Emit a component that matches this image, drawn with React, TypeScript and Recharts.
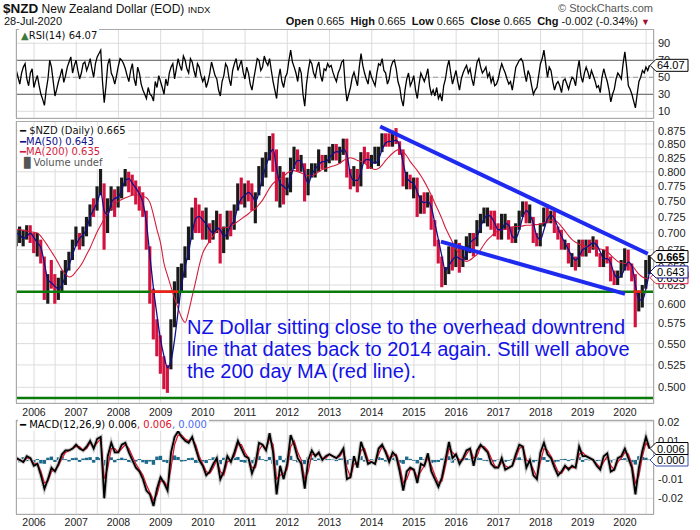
import React from "react";
import {
  ComposedChart,
  Line,
  Bar,
  Cell,
  XAxis,
  YAxis,
  CartesianGrid,
  ReferenceLine,
  ReferenceDot,
} from "recharts";

const FONT = "Arial, 'Liberation Sans', sans-serif";
const LEGEND_FONT = "'DejaVu Sans', Verdana, sans-serif";

// one point per month, late Jul 2005 .. late Jul 2020
const START = 2005.58;
const STEP = 1 / 12;
const X_DOMAIN: [number, number] = [2005.573, 2020.687];
const YEARS = [2006, 2007, 2008, 2009, 2010, 2011, 2012, 2013, 2014, 2015, 2016, 2017, 2018, 2019, 2020];

const PRICE_LOW = [
  0.68, 0.685, 0.68, 0.69, 0.685, 0.67,
  0.665, 0.655, 0.605, 0.6, 0.62, 0.6, 0.605, 0.615, 0.625, 0.645, 0.66, 0.68,
  0.675, 0.68, 0.695, 0.71, 0.725, 0.735, 0.76, 0.675, 0.7, 0.735, 0.725, 0.74,
  0.755, 0.775, 0.765, 0.76, 0.745, 0.735, 0.725, 0.675, 0.6, 0.555, 0.535, 0.515,
  0.498, 0.494, 0.52, 0.57, 0.6, 0.615, 0.635, 0.66, 0.69, 0.7, 0.7, 0.69,
  0.69, 0.685, 0.69, 0.7, 0.655, 0.67, 0.69, 0.695, 0.705, 0.735, 0.745, 0.74,
  0.75, 0.735, 0.715, 0.76, 0.775, 0.79, 0.82, 0.8, 0.75, 0.74, 0.745, 0.76,
  0.765, 0.805, 0.8, 0.8, 0.75, 0.76, 0.79, 0.79, 0.8, 0.805, 0.8, 0.815,
  0.82, 0.82, 0.815, 0.83, 0.79, 0.77, 0.775, 0.765, 0.775, 0.815, 0.805, 0.805,
  0.815, 0.81, 0.835, 0.845, 0.845, 0.845, 0.85, 0.83, 0.775, 0.77, 0.77, 0.755,
  0.725, 0.73, 0.73, 0.74, 0.705, 0.68, 0.655, 0.622, 0.625, 0.64, 0.645, 0.65,
  0.642, 0.65, 0.66, 0.67, 0.665, 0.68, 0.7, 0.715, 0.71, 0.705, 0.695, 0.69,
  0.69, 0.705, 0.69, 0.685, 0.685, 0.705, 0.725, 0.715, 0.715, 0.685, 0.68, 0.68,
  0.71, 0.715, 0.715, 0.7, 0.69, 0.675, 0.675, 0.655, 0.65, 0.645, 0.65, 0.665,
  0.665, 0.67, 0.675, 0.665, 0.65, 0.65, 0.655, 0.63, 0.625, 0.625, 0.635, 0.645,
  0.645, 0.63, 0.57, 0.59, 0.595, 0.62, 0.64,
];

const PRICE_HIGH = [
  0.705, 0.71, 0.705, 0.712, 0.712, 0.7,
  0.7, 0.69, 0.665, 0.64, 0.66, 0.64, 0.635, 0.645, 0.66, 0.672, 0.69, 0.71,
  0.7, 0.71, 0.725, 0.745, 0.755, 0.775, 0.805, 0.78, 0.755, 0.775, 0.77, 0.775,
  0.79, 0.805, 0.8, 0.795, 0.785, 0.775, 0.765, 0.735, 0.68, 0.62, 0.58, 0.56,
  0.535, 0.525, 0.58, 0.63, 0.65, 0.655, 0.68, 0.71, 0.74, 0.756, 0.745, 0.735,
  0.74, 0.715, 0.72, 0.735, 0.73, 0.71, 0.735, 0.735, 0.745, 0.78, 0.79, 0.78,
  0.785, 0.78, 0.765, 0.81, 0.825, 0.835, 0.865, 0.87, 0.84, 0.81, 0.8, 0.79,
  0.825, 0.845, 0.84, 0.83, 0.815, 0.805, 0.815, 0.815, 0.84, 0.83, 0.83, 0.845,
  0.85, 0.85, 0.845, 0.86, 0.86, 0.805, 0.81, 0.805, 0.835, 0.845, 0.835, 0.83,
  0.845, 0.845, 0.87, 0.87, 0.87, 0.875, 0.88, 0.855, 0.84, 0.8, 0.795, 0.79,
  0.79, 0.76, 0.765, 0.765, 0.76, 0.72, 0.69, 0.665, 0.65, 0.68, 0.68, 0.69,
  0.685, 0.68, 0.695, 0.7, 0.7, 0.72, 0.73, 0.74, 0.74, 0.735, 0.735, 0.715,
  0.73, 0.73, 0.72, 0.71, 0.715, 0.735, 0.75, 0.75, 0.745, 0.725, 0.7, 0.715,
  0.74, 0.745, 0.735, 0.735, 0.71, 0.705, 0.69, 0.685, 0.67, 0.665, 0.69, 0.69,
  0.69, 0.69, 0.695, 0.69, 0.67, 0.675, 0.68, 0.665, 0.645, 0.645, 0.66, 0.677,
  0.675, 0.655, 0.64, 0.615, 0.625, 0.66, 0.667,
];

const PRICE_CLOSE = [
  0.69, 0.69, 0.692, 0.7, 0.695, 0.683,
  0.685, 0.66, 0.615, 0.635, 0.63, 0.61, 0.62, 0.635, 0.65, 0.668, 0.685, 0.7,
  0.69, 0.705, 0.715, 0.74, 0.735, 0.77, 0.78, 0.705, 0.75, 0.76, 0.745, 0.77,
  0.785, 0.795, 0.78, 0.77, 0.76, 0.745, 0.73, 0.685, 0.61, 0.57, 0.545, 0.53,
  0.51, 0.5, 0.57, 0.62, 0.64, 0.65, 0.67, 0.7, 0.73, 0.72, 0.715, 0.705,
  0.705, 0.695, 0.71, 0.725, 0.685, 0.695, 0.725, 0.705, 0.735, 0.76, 0.755, 0.775,
  0.77, 0.75, 0.76, 0.8, 0.815, 0.825, 0.855, 0.83, 0.765, 0.8, 0.77, 0.775,
  0.82, 0.825, 0.815, 0.815, 0.765, 0.795, 0.805, 0.805, 0.825, 0.815, 0.825, 0.83,
  0.84, 0.835, 0.835, 0.855, 0.795, 0.775, 0.8, 0.775, 0.83, 0.825, 0.815, 0.82,
  0.82, 0.84, 0.865, 0.86, 0.85, 0.87, 0.855, 0.835, 0.78, 0.79, 0.78, 0.78,
  0.73, 0.75, 0.745, 0.76, 0.71, 0.685, 0.66, 0.64, 0.64, 0.675, 0.66, 0.68,
  0.65, 0.67, 0.69, 0.695, 0.675, 0.71, 0.725, 0.725, 0.73, 0.715, 0.705, 0.695,
  0.72, 0.72, 0.7, 0.69, 0.71, 0.73, 0.745, 0.72, 0.72, 0.69, 0.685, 0.71,
  0.735, 0.725, 0.725, 0.705, 0.7, 0.68, 0.68, 0.665, 0.665, 0.655, 0.685, 0.67,
  0.685, 0.68, 0.68, 0.67, 0.655, 0.67, 0.66, 0.642, 0.63, 0.64, 0.645, 0.672,
  0.65, 0.635, 0.595, 0.605, 0.62, 0.645, 0.665,
];

const MA50 = [
  0.7, 0.697, 0.692, 0.695, 0.7, 0.693,
  0.685, 0.678, 0.655, 0.632, 0.628, 0.623, 0.62, 0.625, 0.638, 0.652, 0.668, 0.682,
  0.692, 0.697, 0.707, 0.725, 0.737, 0.748, 0.765, 0.735, 0.728, 0.748, 0.755, 0.757,
  0.77, 0.785, 0.788, 0.78, 0.772, 0.762, 0.748, 0.715, 0.665, 0.62, 0.585, 0.555,
  0.535, 0.522, 0.53, 0.555, 0.59, 0.625, 0.65, 0.672, 0.7, 0.722, 0.726, 0.72,
  0.714, 0.705, 0.7, 0.708, 0.705, 0.695, 0.7, 0.712, 0.72, 0.742, 0.755, 0.76,
  0.765, 0.76, 0.75, 0.765, 0.79, 0.81, 0.83, 0.84, 0.805, 0.78, 0.775, 0.77,
  0.79, 0.81, 0.82, 0.818, 0.795, 0.78, 0.795, 0.805, 0.812, 0.818, 0.818, 0.825,
  0.832, 0.836, 0.835, 0.84, 0.83, 0.795, 0.785, 0.785, 0.8, 0.82, 0.822, 0.818,
  0.815, 0.822, 0.84, 0.852, 0.855, 0.855, 0.857, 0.845, 0.815, 0.79, 0.783, 0.78,
  0.765, 0.752, 0.748, 0.75, 0.74, 0.715, 0.69, 0.665, 0.645, 0.652, 0.66, 0.665,
  0.662, 0.66, 0.67, 0.685, 0.69, 0.695, 0.71, 0.722, 0.728, 0.725, 0.715, 0.705,
  0.705, 0.715, 0.712, 0.695, 0.692, 0.705, 0.725, 0.735, 0.728, 0.715, 0.695, 0.69,
  0.705, 0.722, 0.728, 0.722, 0.708, 0.695, 0.685, 0.675, 0.665, 0.66, 0.665, 0.675,
  0.678, 0.682, 0.685, 0.682, 0.672, 0.662, 0.662, 0.655, 0.64, 0.635, 0.638, 0.648,
  0.657, 0.652, 0.625, 0.605, 0.605, 0.62, 0.643,
];

const MA200 = [
  0.706, 0.705, 0.704, 0.703, 0.702, 0.701,
  0.7, 0.695, 0.688, 0.68, 0.672, 0.664, 0.655, 0.646, 0.64, 0.636, 0.638, 0.644,
  0.65, 0.658, 0.668, 0.678, 0.69, 0.702, 0.712, 0.722, 0.731, 0.738, 0.745, 0.75,
  0.753, 0.756, 0.758, 0.76, 0.761, 0.76, 0.758, 0.756, 0.748, 0.728, 0.705, 0.685,
  0.655, 0.638, 0.622, 0.607, 0.594, 0.582, 0.576, 0.59, 0.61, 0.63, 0.652, 0.67,
  0.68, 0.688, 0.696, 0.703, 0.706, 0.708, 0.709, 0.711, 0.714, 0.718, 0.722, 0.726,
  0.73, 0.735, 0.738, 0.745, 0.752, 0.762, 0.772, 0.78, 0.785, 0.788, 0.792, 0.798,
  0.801, 0.802, 0.8, 0.798, 0.795, 0.793, 0.793, 0.796, 0.8, 0.804, 0.806, 0.808,
  0.81, 0.812, 0.815, 0.82, 0.823, 0.825, 0.823, 0.82, 0.818, 0.815, 0.81, 0.806,
  0.804, 0.806, 0.812, 0.82, 0.827, 0.833, 0.838, 0.84, 0.836, 0.828, 0.818, 0.81,
  0.802, 0.793, 0.783, 0.772, 0.76, 0.747, 0.735, 0.722, 0.708, 0.697, 0.686, 0.676,
  0.668, 0.661, 0.658, 0.66, 0.664, 0.668, 0.675, 0.683, 0.69, 0.695, 0.7, 0.703,
  0.705, 0.706, 0.708, 0.709, 0.71, 0.71, 0.711, 0.712, 0.712, 0.713, 0.713, 0.714,
  0.716, 0.718, 0.72, 0.72, 0.716, 0.71, 0.703, 0.696, 0.69, 0.686, 0.683, 0.681,
  0.68, 0.679, 0.678, 0.677, 0.676, 0.675, 0.672, 0.667, 0.662, 0.658, 0.656, 0.655,
  0.655, 0.652, 0.646, 0.64, 0.636, 0.634, 0.635,
];

// RSI read twice a month
const RSI_STEP = 1 / 24;
const RSI = [
  58, 50, 42, 55, 62, 66, 48, 40, 55, 60, 38,
  46, 52, 40, 30, 24, 17, 35, 48, 70, 62, 45, 28, 36, 45, 52, 60, 44, 52, 62, 68, 74, 55, 64, 70,
  58, 48, 55, 66, 68, 58, 64, 72, 60, 50, 66, 74, 78, 82, 45, 20, 40, 65, 72, 55, 50, 42, 52, 63,
  72, 70, 66, 60, 52, 45, 58, 66, 48, 40, 62, 55, 42, 35, 30, 25, 38, 30, 28, 22, 45, 38, 52, 45,
  38, 30, 48, 40, 55, 62, 66, 48, 60, 72, 64, 58, 75, 70, 60, 55, 72, 68, 58, 50, 66, 62, 52, 45,
  50, 38, 45, 55, 68, 60, 52, 48, 35, 28, 45, 52, 66, 62, 48, 40, 58, 66, 72, 58, 64, 70, 56, 48,
  62, 55, 42, 35, 48, 60, 72, 70, 58, 62, 75, 68, 64, 72, 58, 45, 35, 25, 48, 60, 45, 38, 50, 55,
  70, 82, 68, 62, 55, 45, 62, 55, 30, 16, 42, 58, 70, 66, 55, 50, 62, 68, 52, 45, 60, 58, 66, 62,
  64, 56, 50, 45, 55, 60, 68, 70, 40, 22, 30, 38, 50, 56, 48, 40, 62, 78, 64, 55, 48, 42, 58, 50,
  45, 40, 55, 66, 64, 72, 58, 55, 42, 48, 62, 68, 70, 60, 45, 38, 24, 16, 35, 48, 55, 40, 45, 52,
  35, 25, 42, 55, 50, 45, 52, 60, 40, 30, 35, 28, 38, 25, 30, 22, 40, 48, 62, 70, 55, 42, 50, 58,
  45, 35, 48, 55, 60, 64, 55, 60, 48, 40, 55, 68, 72, 62, 55, 58, 62, 50, 55, 44, 50, 40, 42, 48,
  58, 66, 60, 55, 48, 42, 45, 35, 48, 62, 66, 70, 72, 68, 55, 45, 58, 52, 40, 30, 35, 38, 52, 66,
  72, 82, 66, 50, 62, 58, 45, 35, 42, 45, 40, 32, 46, 48, 42, 36, 44, 50, 48, 40, 58, 70, 52, 44,
  55, 62, 56, 48, 58, 52, 46, 38, 40, 32, 50, 60, 52, 45, 35, 21, 30, 36, 48, 55, 52, 48, 66, 80,
  62, 40, 36, 30, 22, 14, 30, 45, 50, 58, 55, 62, 58, 64.07,
];

const MACD = [
  0.001, 0, -0.001, 0.002, 0.001, -0.003,
  -0.002, -0.008, -0.015, -0.01, -0.004, -0.006, -0.002, 0.003, 0.005, 0.005, 0.006, 0.008,
  0.006, 0.005, 0.007, 0.01, 0.006, 0.011, 0.012, -0.02, 0.002, 0.009, 0.004, 0.004,
  0.008, 0.009, 0.004, 0, -0.004, -0.006, -0.01, -0.016, -0.018, -0.024, -0.015, -0.009,
  -0.012, -0.016, 0.004, 0.012, 0.015, 0.012, 0.01, 0.009, 0.012, 0.006, 0, -0.003,
  -0.008, -0.006, -0.002, 0.001, -0.01, -0.006, 0.002, -0.001, 0.004, 0.01, 0.006, 0.002,
  0.001, -0.007, -0.002, 0.009, 0.008, 0.005, 0.014, 0.004, -0.018, -0.003, -0.01, -0.002,
  0.013, 0.008, 0.001, -0.002, -0.015, 0, 0.005, 0.002, 0.004, 0, 0.002, 0.003,
  0.002, 0.001, 0.003, 0.006, -0.01, -0.009, 0.002, -0.004, 0.0095, 0.004, -0.002, -0.001,
  -0.002, 0.006, 0.008, 0.004, -0.001, 0.004, 0.002, -0.006, -0.016, -0.006, -0.004, -0.005,
  -0.012, -0.002, -0.003, 0.0035, -0.006, -0.01, -0.014, -0.009, 0, 0.0095, 0.001, 0.003,
  -0.002, 0.001, 0.005, 0.006, -0.003, 0.005, 0.008, 0.006, 0.004, -0.002, -0.004, -0.004,
  0.001, -0.005, -0.004, -0.003, 0.003, 0.008, 0.007, -0.004, 0, -0.008, -0.01, 0.004,
  0.009, 0.003, 0.001, -0.004, -0.008, -0.006, -0.003, -0.005, -0.003, -0.004, 0.007, 0.002,
  0.002, 0.001, 0, -0.003, -0.005, 0.002, 0.0035, -0.006, -0.005, 0.001, 0.002, 0.006,
  0.001, -0.004, -0.018, -0.004, 0.005, 0.012, 0.006,
];

const SIGNAL = [
  0.001, 0, -0.001, 0.001, 0.001, -0.002,
  -0.002, -0.006, -0.012, -0.011, -0.006, -0.005, -0.003, 0.001, 0.004, 0.005, 0.006, 0.007,
  0.007, 0.005, 0.006, 0.009, 0.007, 0.009, 0.011, -0.01, -0.004, 0.006, 0.006, 0.004,
  0.006, 0.008, 0.006, 0.002, -0.002, -0.005, -0.008, -0.013, -0.017, -0.021, -0.018, -0.011,
  -0.011, -0.014, -0.004, 0.008, 0.013, 0.013, 0.011, 0.01, 0.011, 0.008, 0.002, -0.002,
  -0.006, -0.007, -0.004, 0, -0.006, -0.008, -0.001, 0, 0.002, 0.008, 0.008, 0.004,
  0.001, -0.004, -0.004, 0.005, 0.008, 0.006, 0.011, 0.008, -0.01, -0.008, -0.007, -0.005,
  0.007, 0.01, 0.004, 0, -0.01, -0.006, 0.003, 0.003, 0.003, 0.001, 0.001, 0.003,
  0.002, 0.001, 0.002, 0.005, -0.004, -0.009, -0.002, -0.002, 0.005, 0.006, 0, -0.001,
  -0.002, 0.003, 0.007, 0.005, 0.001, 0.002, 0.003, -0.003, -0.012, -0.01, -0.005, -0.005,
  -0.009, -0.006, -0.003, 0.001, -0.003, -0.008, -0.012, -0.011, -0.003, 0.006, 0.004, 0.002,
  0, 0, 0.003, 0.006, 0.001, 0.002, 0.007, 0.007, 0.005, 0.001, -0.003, -0.004,
  -0.001, -0.003, -0.004, -0.003, 0.001, 0.006, 0.007, 0, -0.001, -0.005, -0.009, -0.001,
  0.006, 0.005, 0.002, -0.002, -0.006, -0.007, -0.004, -0.004, -0.004, -0.004, 0.003, 0.004,
  0.002, 0.001, 0, -0.002, -0.004, -0.001, 0.002, -0.003, -0.005, -0.001, 0.001, 0.004,
  0.003, -0.002, -0.012, -0.008, 0.002, 0.009, 0.006,
];

const HIST = [
  0.0008, -0.0012, 0.0015, -0.0006, 0.001, -0.0015,
  0.0005, -0.0018, -0.002, 0.0012, 0.0018, -0.001, 0.0014, 0.0016, 0.0004, -0.0008, 0.001, 0.0012,
  -0.001, 0.0008, 0.0012, 0.0015, -0.0014, 0.0016, 0.001, -0.003, 0.0022, 0.0014, -0.0012, 0.0006,
  0.0012, 0.0006, -0.001, -0.0014, -0.0008, 0.0005, -0.0012, -0.002, -0.0008, -0.0025, 0.0018, 0.0022,
  -0.001, -0.0016, 0.003, 0.0024, 0.0016, -0.0008, -0.0006, 0.001, 0.0012, -0.0015, -0.0014, -0.0008,
  -0.0016, 0.0004, 0.0014, 0.001, -0.0022, 0.0012, 0.0018, -0.0008, 0.0012, 0.0016, -0.001, -0.0014,
  0.0006, -0.0018, 0.0014, 0.002, 0.0004, -0.0006, 0.0016, -0.002, -0.0028, 0.0022, -0.0012, 0.001,
  0.0022, -0.0004, -0.0012, -0.0006, -0.0022, 0.0016, 0.0012, -0.0005, 0.0008, -0.0006, 0.0006, 0.0004,
  0.0002, -0.0006, 0.0008, 0.001, -0.0024, 0.0004, 0.0016, -0.001, 0.002, -0.0008, -0.001, 0.0004,
  -0.0004, 0.0016, 0.001, -0.0008, -0.001, 0.0012, -0.0004, -0.0014, -0.002, 0.0018, 0.0006, -0.0004,
  -0.0018, 0.0016, 0.0004, 0.0012, -0.0016, -0.0012, -0.001, 0.0008, 0.0018, 0.002, -0.0014, 0.0006,
  -0.0012, 0.0008, 0.001, 0.0004, -0.0016, 0.0014, 0.001, -0.0004, -0.0006, -0.0012, -0.0008, 0.0002,
  0.0012, -0.001, -0.0004, 0.0004, 0.0012, 0.0014, 0.0002, -0.0016, 0.0004, -0.0012, -0.0006, 0.0018,
  0.0016, -0.001, -0.0006, -0.0012, -0.0008, 0.0004, 0.0006, -0.0006, 0.0004, 0.0002, 0.0016, -0.001,
  0.0004, -0.0002, 0.0002, -0.0006, -0.0004, 0.0012, 0.0008, -0.0014, 0.0002, 0.001, 0.0006, 0.001,
  -0.001, -0.0012, -0.0024, 0.002, 0.0016, 0.0012, 0.0002,
];

const PRICE_TICKS = [0.5, 0.525, 0.55, 0.575, 0.6, 0.625, 0.65, 0.675, 0.7, 0.725, 0.75, 0.775, 0.8, 0.825, 0.85, 0.875];
const RSI_TICKS = [10, 30, 50, 70, 90];
const MACD_TICKS = [-0.02, -0.01, 0, 0.01, 0.02];

const RSI_DOMAIN: [number, number] = [2.1, 106.8];
const PRICE_DOMAIN: [number, number] = [0.4832, 0.8937];
const MACD_DOMAIN: [number, number] = [-0.0282, 0.0209];

// drawn annotations
const UPPER_TREND = [{ t: 2014.2, p: 0.883 }, { t: 2020.54, p: 0.669 }];
const LOWER_TREND = [{ t: 2015.64, p: 0.687 }, { t: 2020.0, p: 0.613 }];
const SUPPORT = 0.616;
const FLOOR = 0.4885;
const SUPPORT_BREAKS = [[2008.76, 2009.41], [2020.2, 2020.39]];

const xTicks = YEARS.flatMap((y) => [y, y + 0.5]);

const priceRows = PRICE_LOW.map((lo, i) => ({
  t: START + i * STEP,
  range: [lo, PRICE_HIGH[i]],
  close: PRICE_CLOSE[i],
  up: i === 0 || PRICE_CLOSE[i] >= PRICE_CLOSE[i - 1],
  ma50: MA50[i],
  ma200: MA200[i],
}));
const rsiRows = RSI.map((v, i) => ({ t: START + i * RSI_STEP, rsi: v }));
const macdRows = MACD.map((v, i) => ({ t: START + i * STEP, macd: v, signal: SIGNAL[i], hist: HIST[i] }));

function Tag(props: any) {
  const { cx, cy, text, color, bold } = props;
  const x = cx - 4;
  const h = 12;
  const d = `M${x},${cy} L${x + 6},${cy - h / 2} L${x + 38},${cy - h / 2} L${x + 38},${cy + h / 2} L${x + 6},${cy + h / 2} Z`;
  return (
    <g>
      <path d={d} fill="#fff" stroke={color} strokeWidth={1} />
      <text x={x + 7} y={cy + 4} fontSize={11} fontFamily={FONT} fontWeight={bold ? 700 : 400} fill="#000">
        {text}
      </text>
    </g>
  );
}

// last-value tags, drawn in a transparent chart above the axes
function TagLayer({ top, height, marginTop = 0, bottom, domain, log, tags }: any) {
  return (
    <div style={{ position: "absolute", left: 0, top, pointerEvents: "none" }}>
      <ComposedChart width={700} height={height} data={[{ t: X_DOMAIN[0] }, { t: X_DOMAIN[1] }]} margin={{ top: marginTop, right: 46, bottom, left: 16 }}>
        <XAxis dataKey="t" type="number" domain={X_DOMAIN} hide allowDataOverflow />
        <YAxis hide domain={domain} scale={log ? "log" : "auto"} allowDataOverflow />
        {tags.map((tg: any) => (
          <ReferenceDot key={tg.text} x={X_DOMAIN[1]} y={tg.value} r={0} shape={(p: any) => <Tag {...p} {...tg} />} />
        ))}
      </ComposedChart>
    </div>
  );
}

const yearLabel = (v: number) => (Number.isInteger(v) ? String(v) : "");

function Frame({ top, height }: { top: number; height: number }) {
  return (
    <div
      style={{
        position: "absolute",
        left: 16,
        top,
        width: 638,
        height,
        border: "1px solid #a9a9a9",
        boxSizing: "border-box",
        pointerEvents: "none",
      }}
    />
  );
}

export default function App() {
  const axisTick = { fontSize: 11, fill: "#222", fontFamily: FONT };
  const xTick = { fontSize: 10.5, fill: "#222", fontFamily: FONT };

  return (
    <div style={{ position: "absolute", left: 0, top: 0, width: 700, height: 530, background: "#fff", fontFamily: FONT, overflow: "hidden" }}>
      {/* header */}
      <div style={{ position: "absolute", left: 3, top: 1, fontSize: 12, color: "#111", whiteSpace: "nowrap" }}>
        <b style={{ fontSize: 13.5 }}>$NZD</b> New Zealand Dollar (EOD) <span style={{ fontSize: 9.5 }}>INDX</span>
      </div>
      <div style={{ position: "absolute", left: 4, top: 15, fontSize: 11, color: "#111" }}>28-Jul-2020</div>
      <div style={{ position: "absolute", right: 50, top: 15, fontSize: 11, color: "#111", whiteSpace: "nowrap" }}>
        <b>Open</b> 0.665&nbsp; <b>High</b> 0.665&nbsp; <b>Low</b> 0.665&nbsp; <b>Close</b> 0.665&nbsp; <b>Chg</b> -0.002 (-0.34%){" "}
        <span style={{ color: "#a01030", fontSize: 9 }}>▼</span>
      </div>
      <div style={{ position: "absolute", right: 47, top: 2, fontSize: 11, color: "#555", whiteSpace: "nowrap" }}>
        © StockCharts.com
      </div>

      {/* RSI panel */}
      <div style={{ position: "absolute", left: 0, top: 29 }}>
        <ComposedChart width={700} height={89} data={rsiRows} margin={{ top: 0, right: 0, bottom: 0, left: 16 }}>
          <CartesianGrid stroke="#dcdcdc" />
          <XAxis dataKey="t" type="number" domain={X_DOMAIN} ticks={xTicks} hide allowDataOverflow />
          <YAxis orientation="right" width={46} domain={RSI_DOMAIN} ticks={RSI_TICKS} interval={0} tick={axisTick} tickLine={false} axisLine={false} tickSize={3} tickMargin={1} allowDataOverflow />
          <ReferenceLine y={70} stroke="#7a7a7a" strokeWidth={1.2} />
          <ReferenceLine y={30} stroke="#7a7a7a" strokeWidth={1.2} />
          <ReferenceLine y={50} stroke="#9a9a9a" strokeDasharray="5 3" />
          <Line dataKey="rsi" stroke="#000" strokeWidth={1.3} dot={false} isAnimationActive={false} />
        </ComposedChart>
      </div>
      <Frame top={29} height={90} />
      <TagLayer top={29} height={89} bottom={0} domain={RSI_DOMAIN} tags={[{ value: 64.07, text: "64.07", color: "#000" }]} />
      <div style={{ position: "absolute", left: 19, top: 29, fontFamily: LEGEND_FONT, fontSize: 10, color: "#111", background: "#fff", padding: "0 2px", lineHeight: "13px" }}>
        <span style={{ color: "#3a7a3a" }}>▲</span>RSI(14) 64.07
      </div>

      {/* price panel */}
      <div style={{ position: "absolute", left: 0, top: 121 }}>
        <ComposedChart width={700} height={298} data={priceRows} margin={{ top: 0, right: 0, bottom: 0, left: 16 }}>
          <CartesianGrid stroke="#dcdcdc" />
          <XAxis dataKey="t" type="number" domain={X_DOMAIN} ticks={xTicks} tickFormatter={yearLabel} tick={xTick} tickLine={false} axisLine={false} tickSize={4} height={16} interval={0} allowDataOverflow />
          <YAxis orientation="right" width={46} scale="log" domain={PRICE_DOMAIN} ticks={PRICE_TICKS} interval={0} tickFormatter={(v: number) => v.toFixed(3)} tick={axisTick} tickLine={false} axisLine={false} tickSize={3} tickMargin={1} allowDataOverflow />
          <Bar dataKey="range" barSize={3.6} isAnimationActive={false}>
            {priceRows.map((r, i) => (
              <Cell key={i} fill={r.up ? "#1a1a1a" : "#d3123f"} />
            ))}
          </Bar>
          <Line dataKey="ma200" type="monotone" stroke="#d41c3c" strokeWidth={1.1} dot={false} isAnimationActive={false} />
          <Line dataKey="ma50" type="monotone" stroke="#10108a" strokeWidth={1.3} dot={false} isAnimationActive={false} />
          <ReferenceLine y={SUPPORT} stroke="#0a7a0a" strokeWidth={2.5} />
          <ReferenceLine y={FLOOR} stroke="#0a7a0a" strokeWidth={2.5} />
          {SUPPORT_BREAKS.map(([a, b], i) => (
            <ReferenceLine key={i} segment={[{ x: a, y: SUPPORT }, { x: b, y: SUPPORT }]} stroke="#ff1a1a" strokeWidth={2.5} />
          ))}
          <ReferenceLine segment={UPPER_TREND.map((d) => ({ x: d.t, y: d.p }))} stroke="#1f2af0" strokeWidth={4} />
          <ReferenceLine segment={LOWER_TREND.map((d) => ({ x: d.t, y: d.p }))} stroke="#1f2af0" strokeWidth={4} />
        </ComposedChart>
      </div>
      <Frame top={121} height={283} />
      <TagLayer
        top={121}
        height={298}
        bottom={16}
        domain={PRICE_DOMAIN}
        log
        tags={[
          { value: 0.635, text: "0.635", color: "#d41c3c" },
          { value: 0.643, text: "0.643", color: "#10108a" },
          { value: 0.665, text: "0.665", color: "#000", bold: true },
        ]}
      />
      <div style={{ position: "absolute", left: 18, top: 126, fontFamily: LEGEND_FONT, fontSize: 10, lineHeight: "10.7px", background: "#fff", padding: "0 2px" }}>
        <div style={{ color: "#111" }}><span style={{ fontWeight: 700 }}>━</span> $NZD (Daily) 0.665</div>
        <div style={{ color: "#10108a" }}><span style={{ fontWeight: 700 }}>━</span>MA(50) 0.643</div>
        <div style={{ color: "#d41c3c" }}><span style={{ fontWeight: 700 }}>━</span>MA(200) 0.635</div>
        <div style={{ color: "#555" }}><span style={{ letterSpacing: -1 }}>▐▌</span>Volume undef</div>
      </div>
      <div style={{ position: "absolute", left: 187, top: 316, fontSize: 20, lineHeight: "22px", color: "#1212e6", whiteSpace: "nowrap" }}>
        NZ Dollar sitting close to the overhead downtrend
        <br />
        line that dates back to 2014 again. Still well above
        <br />
        the 200 day MA (red line).
      </div>

      {/* MACD panel: chart starts 8px higher so the top tick label is not clipped */}
      <div style={{ position: "absolute", left: 0, top: 412 }}>
        <ComposedChart width={700} height={118} data={macdRows} margin={{ top: 8, right: 0, bottom: 0, left: 16 }}>
          <CartesianGrid stroke="#dcdcdc" />
          <XAxis dataKey="t" type="number" domain={X_DOMAIN} ticks={xTicks} tickFormatter={yearLabel} tick={xTick} tickLine={false} axisLine={false} tickSize={3} height={16} interval={0} allowDataOverflow />
          <YAxis orientation="right" width={46} domain={MACD_DOMAIN} ticks={MACD_TICKS} interval={0} tickFormatter={(v: number) => String(v)} tick={axisTick} tickLine={false} axisLine={false} tickSize={3} tickMargin={1} allowDataOverflow />
          <Bar dataKey="hist" barSize={3.4} fill="#1d6a8c" isAnimationActive={false} />
          <Line dataKey="macd" stroke="#c9c9c9" strokeWidth={4} dot={false} isAnimationActive={false} />
          <Line dataKey="signal" stroke="#e0102a" strokeWidth={1.2} dot={false} isAnimationActive={false} />
          <Line dataKey="macd" stroke="#000" strokeWidth={1.8} dot={false} isAnimationActive={false} />
        </ComposedChart>
      </div>
      <Frame top={420} height={95} />
      <TagLayer
        top={412}
        height={118}
        marginTop={8}
        bottom={16}
        domain={MACD_DOMAIN}
        tags={[
          { value: 0, text: "0.000", color: "#3a4aa8" },
          { value: 0.006, text: "0.006", color: "#000" },
        ]}
      />
      <div style={{ position: "absolute", left: 18, top: 418, fontFamily: LEGEND_FONT, fontSize: 10, lineHeight: "13px", background: "#fff", padding: "0 2px", whiteSpace: "nowrap" }}>
        <span style={{ fontWeight: 700 }}>━</span> MACD(12,26,9) 0.006<span style={{ color: "#e0102a" }}>, 0.006</span>
        <span style={{ color: "#4a6cf0" }}>, 0.000</span>
      </div>
    </div>
  );
}
